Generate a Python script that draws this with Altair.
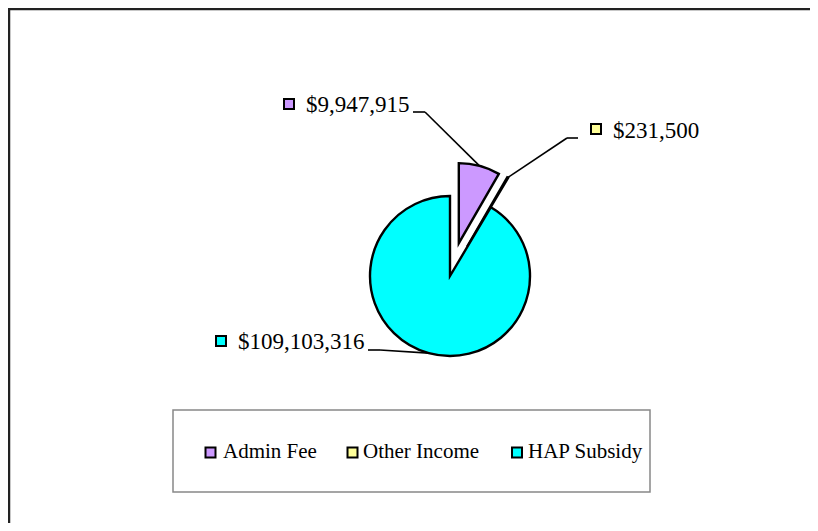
import altair as alt
import pandas as pd

# ---- data ----
categories = ["Admin Fee", "Other Income", "HAP Subsidy"]
values = [9947915, 231500, 109103316]
value_labels = ["$9,947,915", "$231,500", "$109,103,316"]
colors = ["#CC99FF", "#FFFF99", "#00FFFF"]

# ---- style / layout (chart pixel coords) ----
explode = [34, 34, 0]
CX, CY, R = 442, 268, 80
label_sq_x = [281, 588, 213]
label_sq_y = [96, 121, 333]
label_tx = [298, 605, 230]
label_ty = [97, 123, 334]
lead_x1 = [405, 570, 360]
lead_x2 = [417, 559, 372]
lead_y = [104, 130, 342]
leg_sq_x = [202.5, 344.5, 509]
leg_tx = [215, 355, 520]
LEG_Y = 444
FONT = "Liberation Serif"

df = pd.DataFrame({
    "cat": categories,
    "value": values,
    "label": value_labels,
    "order": list(range(len(categories))),
    "explode": explode,
    "sqx": label_sq_x, "sqy": label_sq_y,
    "tx": label_tx, "ty": label_ty,
    "lx1": lead_x1, "lx2": lead_x2, "ly": lead_y,
    "legsqx": leg_sq_x, "legtx": leg_tx,
})

color = alt.Color("cat:N", scale=alt.Scale(domain=categories, range=colors), legend=None)

base = alt.Chart(df).transform_joinaggregate(
    total="sum(value)"
).transform_window(
    cum="sum(value)", sort=[alt.SortField("order")], frame=[None, 0]
).transform_calculate(
    t1="datum.cum / datum.total * 2 * PI",
    t0="(datum.cum - datum.value) / datum.total * 2 * PI",
).transform_calculate(
    mid="(datum.t0 + datum.t1) / 2"
).transform_calculate(
    cx=f"{CX} + datum.explode * sin(datum.mid)",
    cy=f"{CY} - datum.explode * cos(datum.mid)",
).transform_calculate(
    px=f"datum.cx + {R} * sin(datum.mid)",
    py=f"datum.cy - {R} * cos(datum.mid)",
)

pie = base.mark_arc(radius=R, stroke="black", strokeWidth=2.4).encode(
    theta=alt.Theta("t0:Q", scale=None),
    theta2="t1:Q",
    x=alt.X("cx:Q", scale=None),
    y=alt.Y("cy:Q", scale=None),
    color=color,
)

lead_h = base.mark_rule(color="black", strokeWidth=1.6).encode(
    x=alt.X("lx1:Q", scale=None), x2="lx2:Q", y=alt.Y("ly:Q", scale=None)
)
lead_d = base.mark_rule(color="black", strokeWidth=1.6).encode(
    x=alt.X("lx2:Q", scale=None), y=alt.Y("ly:Q", scale=None), x2="px:Q", y2="py:Q"
)

lab_sq = base.mark_square(size=100, stroke="black", strokeWidth=2, opacity=1).encode(
    x=alt.X("sqx:Q", scale=None), y=alt.Y("sqy:Q", scale=None), color=color
)
lab_txt = base.mark_text(font=FONT, fontSize=23, align="left", baseline="middle", color="black").encode(
    x=alt.X("tx:Q", scale=None), y=alt.Y("ty:Q", scale=None), text="label:N"
)

# legend box
leg_box = alt.Chart(pd.DataFrame({"a": [0]})).mark_rect(
    fill="white", stroke="#888888", strokeWidth=1.5
).encode(x=alt.value(165), x2=alt.value(642), y=alt.value(402), y2=alt.value(484))

leg_sq = base.mark_square(size=100, stroke="black", strokeWidth=2, opacity=1).encode(
    x=alt.X("legsqx:Q", scale=None), y=alt.value(LEG_Y + 0.5), color=color
)
leg_txt = base.mark_text(font=FONT, fontSize=21, align="left", baseline="middle", color="black").encode(
    x=alt.X("legtx:Q", scale=None), y=alt.value(LEG_Y), text="cat:N"
)

# outer frame (left and top edges)
frame_l = alt.Chart(pd.DataFrame({"a": [0]})).mark_rule(color="#222222", strokeWidth=2.5).encode(
    x=alt.value(1), y=alt.value(0), y2=alt.value(515)
)
frame_t = alt.Chart(pd.DataFrame({"a": [0]})).mark_rule(color="#222222", strokeWidth=2.5).encode(
    x=alt.value(0), x2=alt.value(802), y=alt.value(1)
)

chart = alt.layer(
    frame_l, frame_t, lead_h, lead_d, pie, lab_sq, lab_txt, leg_box, leg_sq, leg_txt
).properties(
    width=802, height=515, autosize=alt.AutoSizeParams(type="none"), padding=0
).configure_view(stroke=None).configure(background="white")

chart.save("out.html", embed_options={"renderer": "svg", "actions": False})
